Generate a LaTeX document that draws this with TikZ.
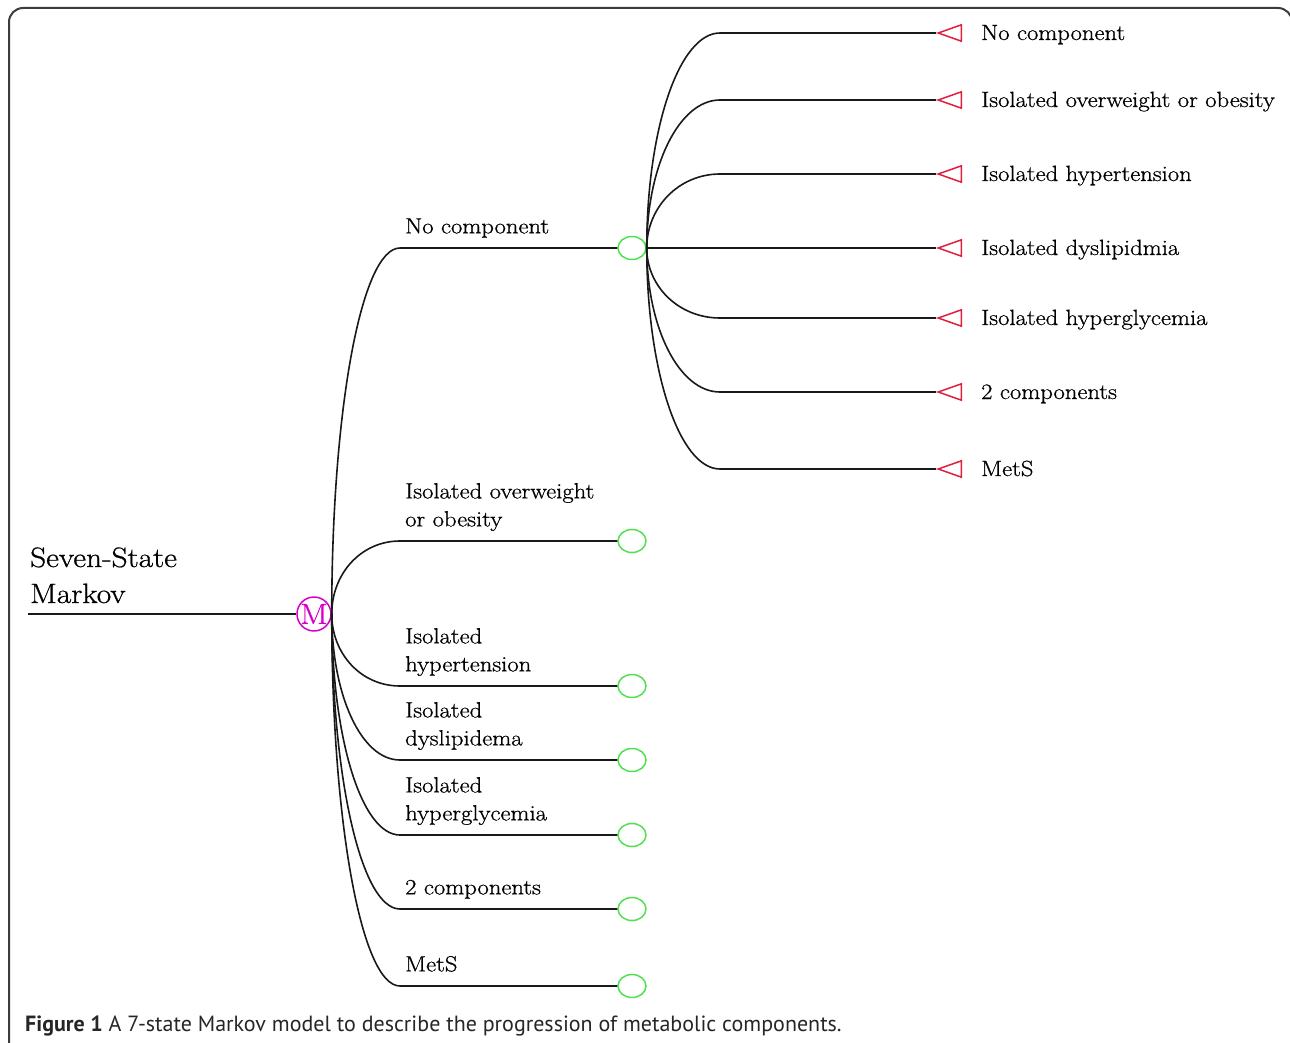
\documentclass[tikz,border=0pt]{standalone}
\usepackage{fontspec}
\newfontfamily\capfont{PT Sans}
\newfontfamily\lblfont{Latin Modern Roman}[FakeStretch=1.12,FakeBold=0.8]
\usetikzlibrary{shapes.geometric,calc}
\definecolor{framegray}{RGB}{60,60,60}
\definecolor{leafgreen}{RGB}{80,225,80}
\definecolor{leafred}{RGB}{225,30,60}
\definecolor{markovmag}{RGB}{215,0,200}
\tikzset{
  branch/.style={line width=1.6pt, black!90},
  chancenode/.style={ellipse, draw=leafgreen, line width=1.5pt, minimum width=28pt, minimum height=23pt, inner sep=0pt},
  termnode/.style={isosceles triangle, isosceles triangle apex angle=39, shape border rotate=180, draw=leafred, line width=1.5pt, inner sep=0pt, minimum height=23pt, anchor=apex},
  lbl/.style={font=\lblfont\fontsize{22}{28}\selectfont, align=left, inner sep=0pt, anchor=south west},
  rlbl/.style={font=\lblfont\fontsize{22}{28}\selectfont, inner sep=0pt, anchor=base west},
  mnode/.style={circle, draw=markovmag, text=markovmag, line width=1.5pt, minimum size=31pt, inner sep=0pt, font=\lblfont\fontsize{29}{29}\selectfont},
}
\begin{document}
\begin{tikzpicture}[x=1pt,y=-1pt]
\useasboundingbox (0,0) rectangle (1290,1043);
\begin{scope}
\clip (0,0) rectangle (1290,1043);
\draw[framegray, line width=2pt, rounded corners=14pt] (9,8) rectangle (1292,1070);
\end{scope}
% root
\node[mnode] (M) at (314,614) {M};
\coordinate (root) at (28,614);
\draw[line width=2.6pt, black!90] (root) -- (M.west);
\node[font=\lblfont\fontsize{28}{36}\selectfont, align=left, inner sep=0pt, anchor=south west] (title) at (30,614) {Seven-State\\Markov\strut};
% level 1
\foreach \yy/\n in {248/1,541/2,686/3,760/4,835/5,909/6,986/7}{
  \node[chancenode] (g\n) at (632,\yy) {};
  \coordinate (b\n) at (400,\yy);
  \pgfmathsetmacro\cc{0.552*(\yy-614)}
  \draw[branch] (M.east) .. controls +(0,\cc) and +(-39,0) .. (b\n) -- (g\n.west);
}
\node[lbl] (l1) at (405,242) {No component\strut};
\node[lbl] (l2) at (405,535) {Isolated overweight\\or obesity\strut};
\node[lbl] (l3) at (405,680) {Isolated\\hypertension\strut};
\node[lbl] (l4) at (405,754) {Isolated\\dyslipidema\strut};
\node[lbl] (l5) at (405,829) {Isolated\\hyperglycemia\strut};
\node[lbl] (l6) at (405,903) {2 components\strut};
\node[lbl] (l7) at (405,980) {MetS\strut};
% level 2
\foreach \yy/\n/\txt in {33/1/No component,100/2/Isolated overweight or obesity,174/3/Isolated hypertension,248/4/Isolated dyslipidmia,318/5/Isolated hyperglycemia,392/6/2 components,469/7/MetS}{
  \node[termnode] (t\n) at (936,\yy) {};
  \coordinate (c\n) at (720,\yy);
  \pgfmathsetmacro\cc{0.552*(\yy-248)}
  \draw[branch] (g1.east) .. controls +(0,\cc) and +(-41,0) .. (c\n) -- (t\n.apex);
  \node[rlbl] (r\n) at (981,\yy+7) {\txt};
}
% caption
\node[inner sep=0pt, anchor=base west, font=\capfont\fontsize{22}{24}\selectfont, text=black!85] (cap) at (25,1031) {\textbf{Figure 1} A 7-state Markov model to describe the progression of metabolic components.};
\end{tikzpicture}
\end{document}
